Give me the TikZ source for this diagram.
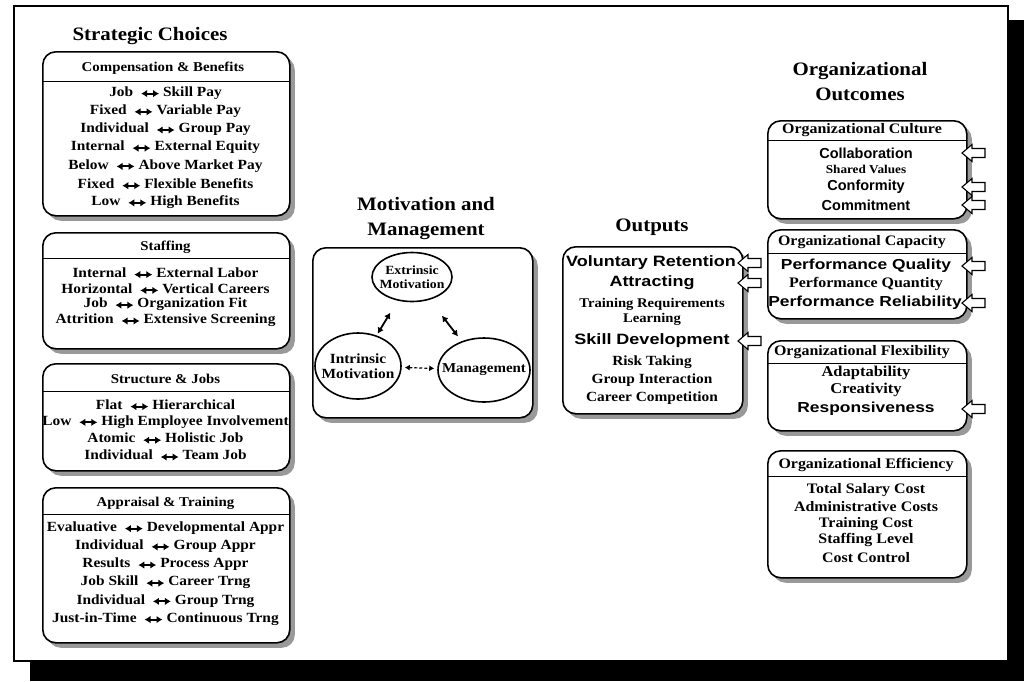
\documentclass[tikz,border=0pt]{standalone}
\usepackage{fontspec}
\setmainfont{Liberation Serif}[FakeStretch=1.1]
\newfontfamily\hsans{Liberation Sans}
\newfontfamily\hwide{Liberation Sans}[FakeStretch=1.2]
\usetikzlibrary{shapes.geometric,shadows,arrows.meta}

% short thick two-headed arrow used between paired choices
\newsavebox\pairarrowbox
\sbox\pairarrowbox{\tikz[baseline=-0.6ex]\draw[line width=2pt,{Latex[length=6pt,width=7.5pt]}-{Latex[length=6pt,width=7.5pt]}](0pt,0pt)--(18pt,0pt);}
\newcommand{\lra}{\hspace{3pt}\usebox\pairarrowbox\hspace{3pt}}

\tikzset{
  panel/.style={draw, line width=1.6pt, rounded corners=13pt, fill=white,
    anchor=north west, inner sep=0pt,
    drop shadow={shadow xshift=5pt, shadow yshift=-5pt, fill=black!40, opacity=1}},
  title/.style={font=\fontsize{19}{25}\selectfont\bfseries, align=center, inner sep=0pt},
  hdr/.style={font=\fontsize{13.5}{15}\selectfont\bfseries, inner sep=0pt},
  rhdr/.style={font=\fontsize{14.5}{16}\selectfont\bfseries, inner sep=0pt},
  item/.style={font=\fontsize{14}{16}\selectfont\bfseries, inner sep=0pt},
  ritem/.style={font=\fontsize{14.5}{16}\selectfont\bfseries, inner sep=0pt},
  small/.style={font=\fontsize{13.3}{15}\selectfont\bfseries, inner sep=0pt},
  big/.style={font=\hwide\fontsize{15}{17}\selectfont\bfseries, inner sep=0pt},
  bigc/.style={font=\hsans\fontsize{14.5}{16}\selectfont\bfseries, inner sep=0pt},
  bigp/.style={font=\hwide\fontsize{14.5}{16}\selectfont\bfseries, inner sep=0pt},
  divider/.style={line width=1.3pt},
  oval/.style={draw, ellipse, line width=1.6pt, inner xsep=-10pt, inner ysep=0pt,
    align=center, font=\fontsize{14}{15}\selectfont\bfseries},
  link/.style={line width=1.8pt, {Latex[length=6pt,width=7pt]}-{Latex[length=6pt,width=7pt]}},
  hollow/.pic={\draw[line width=1.1pt, fill=white, line join=miter]
    (0,0) -- (10,-8.5) -- (10,-4.5) -- (23,-4.5) -- (23,4.5) -- (10,4.5) -- (10,8.5) -- cycle;}
}

% a column of centred entries: style, name prefix, x, first y, step, entries
\newcommand{\entries}[6]{%
  \foreach \t [count=\i] in {#6}
    \node[#1] (#2-\i) at (#3, {#4+(\i-1)*#5}) {\t};}

\begin{document}
\begin{tikzpicture}[x=1pt, y=-1pt]
\useasboundingbox (0,0) rectangle (1028,681);

% outer frame with its heavy shadow
\fill[black] (1008,20) rectangle (1024,681);
\fill[black] (30,661) rectangle (1024,681);
\draw[line width=1.3pt, fill=white] (14,6) rectangle (1008,661);

% ---------------- Strategic choices ----------------
\node[title] (sc) at (150,36) {Strategic Choices};

\node[panel, minimum width=247pt, minimum height=164pt] (comp) at (42,51) {};
\node[hdr] (comp-h) at (163,68) {Compensation \& Benefits};
\draw[divider] (42,81.5) -- (289,81.5);
\entries{item}{comp}{165.5}{93}{18.2}{Job \lra Skill Pay, Fixed \lra Variable Pay,
  Individual \lra Group Pay, Internal \lra External Equity,
  Below \lra Above Market Pay, Fixed \lra Flexible Benefits, Low \lra High Benefits}

\node[panel, minimum width=247pt, minimum height=116pt] (staff) at (42,232) {};
\node[hdr] (staff-h) at (165.5,247) {Staffing};
\draw[divider] (42,258.5) -- (289,258.5);
\entries{item}{staff}{165.5}{273}{15.8}{Internal \lra External Labor,
  Horizontal \lra Vertical Careers, Job \lra Organization Fit,
  Attrition \lra Extensive Screening}

\node[panel, minimum width=247pt, minimum height=107pt] (struct) at (42,363) {};
\node[hdr] (struct-h) at (165.5,379) {Structure \& Jobs};
\draw[divider] (42,391.5) -- (289,391.5);
\entries{item}{struct}{165.5}{405}{16.8}{Flat \lra Hierarchical,
  Low \lra High Employee Involvement, Atomic \lra Holistic Job,
  Individual \lra Team Job}

\node[panel, minimum width=247pt, minimum height=155pt] (appr) at (42,487) {};
\node[hdr] (appr-h) at (165.5,503) {Appraisal \& Training};
\draw[divider] (42,514.5) -- (289,514.5);
\entries{item}{appr}{165.5}{528}{18.2}{Evaluative \lra Developmental Appr,
  Individual \lra Group Appr, Results \lra Process Appr,
  Job Skill \lra Career Trng, Individual \lra Group Trng,
  Just-in-Time \lra Continuous Trng}

% ---------------- Motivation and management ----------------
\node[title] (mm) at (426,218) {Motivation and\\Management};
\node[panel, minimum width=220pt, minimum height=170pt] (mbox) at (312,247) {};
\node[oval, minimum width=80pt, minimum height=49pt, font=\fontsize{12.5}{14}\selectfont\bfseries]
  (ext) at (412,277) {Extrinsic\\Motivation};
\node[oval, minimum width=86pt, minimum height=66pt] (int) at (358,366) {Intrinsic\\Motivation};
\node[oval, minimum width=92pt, minimum height=64pt, font=\fontsize{13.6}{15}\selectfont\bfseries]
  (mgt) at (484,370) {Management};
\draw[link, shorten <=14pt, shorten >=2pt] (ext) -- (int);
\draw[link, shorten <=20pt, shorten >=6pt] (ext) -- (mgt);
\draw[line width=1.2pt, densely dashed, {Latex[length=5pt,width=6pt]}-{Latex[length=5pt,width=6pt]},
  shorten <=3pt, shorten >=3pt] (int) -- (mgt);

% ---------------- Outputs ----------------
\node[title] (out) at (652,227) {Outputs};
\node[panel, minimum width=180pt, minimum height=167pt] (obox) at (562,246) {};
\node[big] (o1) at (651,263) {Voluntary Retention};
\node[big] (o2) at (652,283) {Attracting};
\node[small] (o3) at (652,304) {Training Requirements};
\node[small] (o4) at (652,319) {Learning};
\node[big] (o5) at (652,341) {Skill Development};
\node[item] (o6) at (652,362) {Risk Taking};
\node[item] (o7) at (652,380) {Group Interaction};
\node[item] (o8) at (652,398) {Career Competition};
\foreach \n in {o1,o2,o5} \pic at (738,0 |- \n.center) {hollow};

% ---------------- Organizational outcomes ----------------
\node[title] (oo) at (860,82) {Organizational\\Outcomes};

\node[panel, minimum width=199pt, minimum height=98pt] (cult) at (767,120) {};
\node[rhdr] (cult-h) at (862,130) {Organizational Culture};
\draw[divider] (767,140.5) -- (966,140.5);
\node[bigc] (c1) at (866,153) {Collaboration};
\node[small, font=\fontsize{12}{14}\selectfont\bfseries] (c2) at (866,169) {Shared Values};
\node[bigc] (c3) at (866,187) {Conformity};
\node[bigc] (c4) at (866,205) {Commitment};

\node[panel, minimum width=199pt, minimum height=89pt] (cap) at (767,229) {};
\node[rhdr] (cap-h) at (862,242) {Organizational Capacity};
\draw[divider] (767,253.5) -- (966,253.5);
\node[bigp] (p1) at (866,266) {Performance Quality};
\node[ritem] (p2) at (866,284) {Performance Quantity};
\node[bigp] (p3) at (865,303) {Performance Reliability};

\node[panel, minimum width=199pt, minimum height=90pt] (flex) at (767,340) {};
\node[rhdr] (flex-h) at (862,352) {Organizational Flexibility};
\draw[divider] (767,363.5) -- (966,363.5);
\node[ritem, font=\fontsize{15}{17}\selectfont\bfseries] (f1) at (866,373) {Adaptability};
\node[ritem, font=\fontsize{15}{17}\selectfont\bfseries] (f2) at (866,390) {Creativity};
\node[bigp] (f3) at (866,409) {Responsiveness};

\node[panel, minimum width=199pt, minimum height=127pt] (eff) at (767,450) {};
\node[rhdr] (eff-h) at (866,465) {Organizational Efficiency};
\draw[divider] (767,476.5) -- (966,476.5);
\entries{ritem}{eff}{866}{490}{16.8}{Total Salary Cost, Administrative Costs,
  Training Cost, Staffing Level, Cost Control}

\foreach \n in {c1,c3,c4,p1,p3,f3} \pic at (962,0 |- \n.center) {hollow};
\end{tikzpicture}
\end{document}
